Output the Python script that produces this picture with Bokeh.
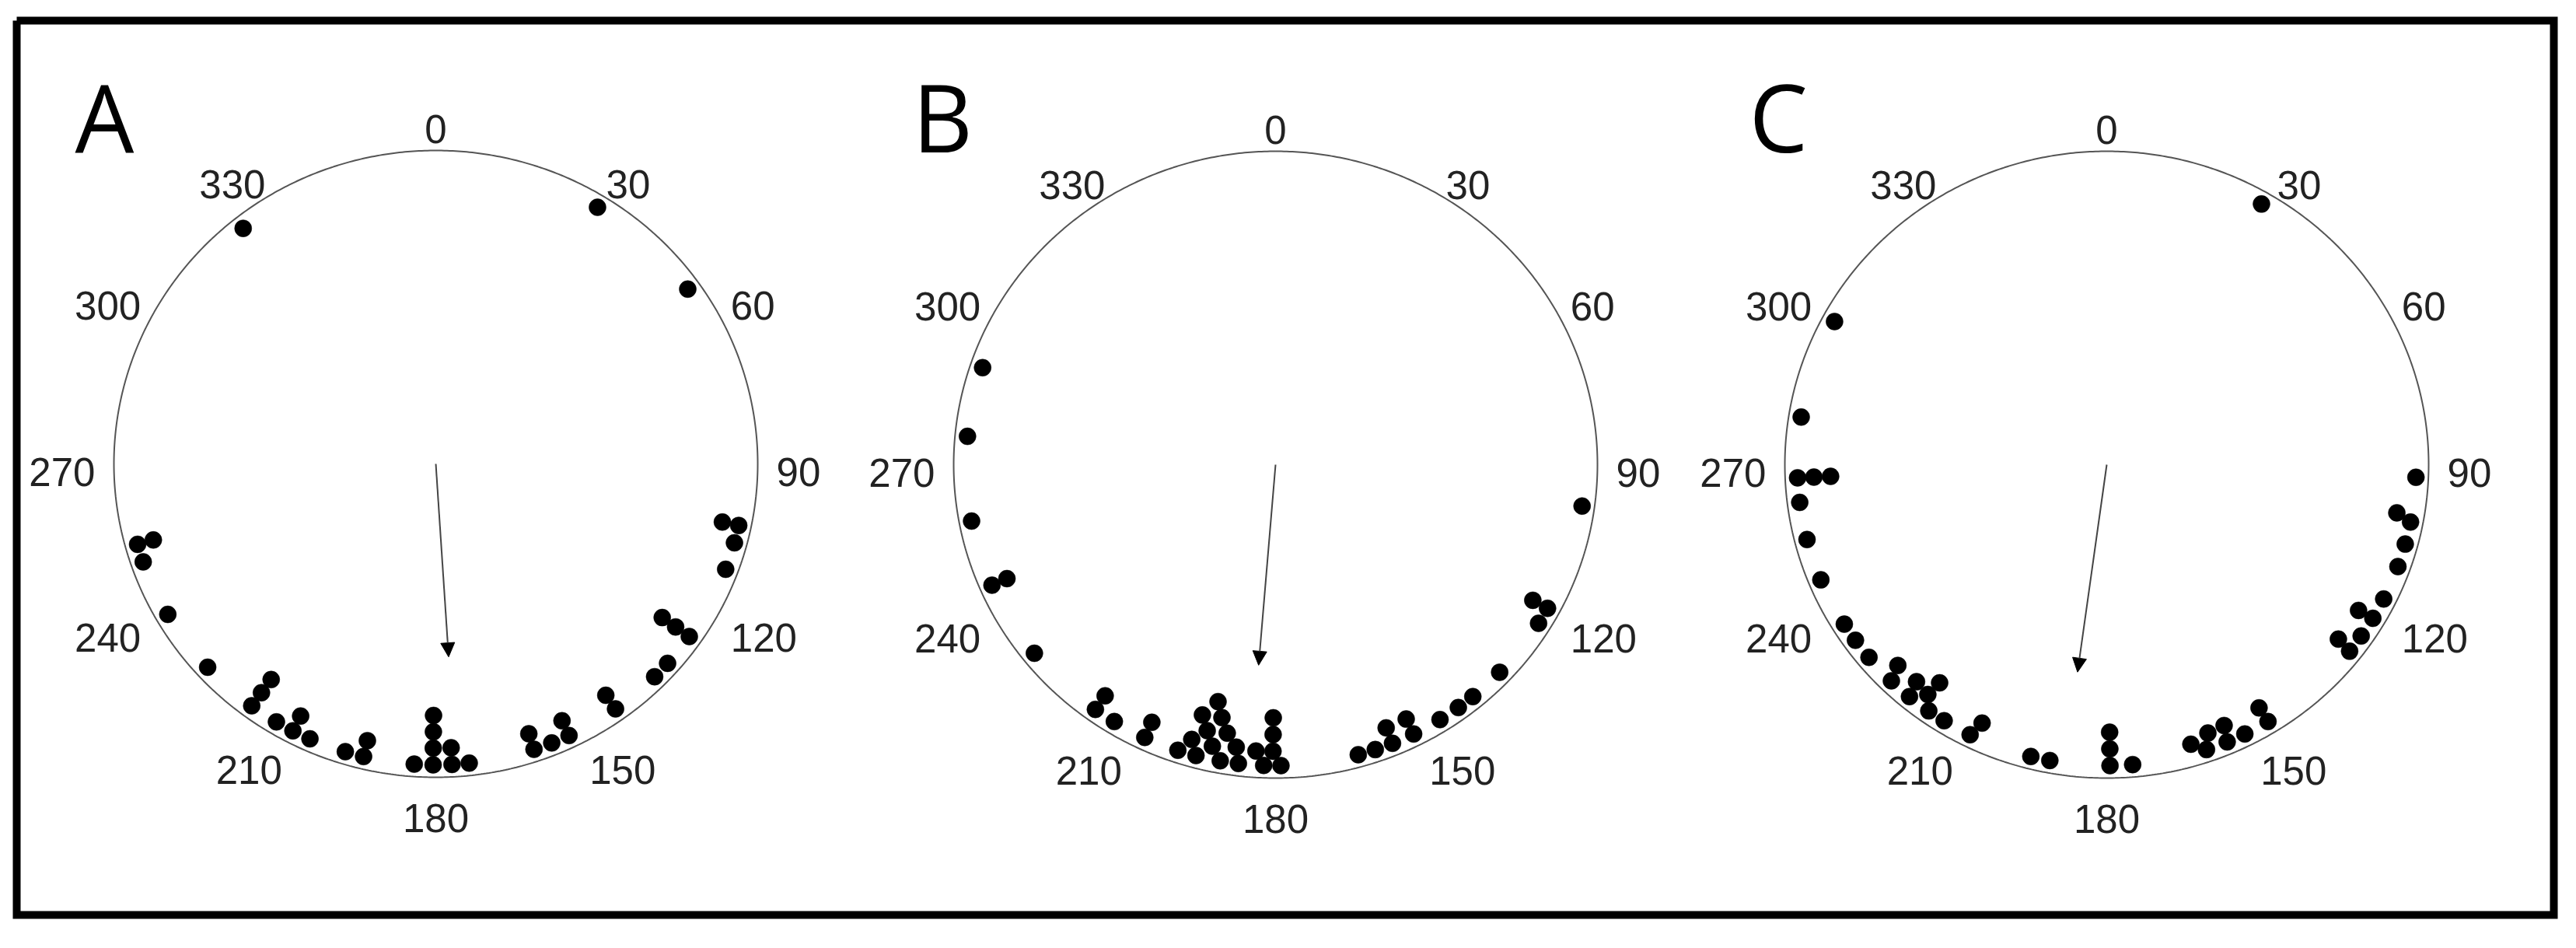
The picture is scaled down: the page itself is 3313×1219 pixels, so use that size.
import numpy as np
from bokeh.plotting import figure
from bokeh.models import Range1d, Arrow, NormalHead
from bokeh.core.properties import value
from bokeh.embed import file_html
from bokeh.resources import INLINE

# ---------------- data ----------------
panel_letters = ["A", "B", "C"]
tick_angles = [0, 30, 60, 90, 120, 150, 180, 210, 240, 270, 300, 330]
tick_labels = ["0", "30", "60", "90", "120", "150", "180", "210", "240", "270", "300", "330"]

# individual observations (degrees, clockwise from top); repeated values stack inward
angles_A = [321.5, 31.5, 54.5, 101.8, 105.2, 110.5, 125, 131.5, 135, 144.5, 154.5, 158,
            161.5, 173.8, 177, 180.5, 184, 193.5, 197, 204, 207.5, 211, 216.5, 227.5,
            240, 251, 254.5,
            101.8, 125, 144.5, 154.5, 161.5, 177, 180.5, 193.5, 207.5, 216.5, 254.5,
            125, 180.5, 216.5,
            180.5]
angles_B = [288.8, 275.4, 259.2, 246.4, 231.2, 215.6, 211.4, 205, 198.4, 194.9, 190.3,
            186.9, 182.2, 179.0, 97.9, 118.5, 121.8, 133.6, 140.4, 143.8, 147.9, 153.5,
            157.8, 161.2, 164.5,
            246.4, 215.6, 205, 196.5, 192.3, 187.7, 183.8, 180.5, 118.5, 153.5, 157.8,
            194.0, 189.9, 180.5,
            195.8, 191.6, 180.5,
            193.2]
angles_C = [30.0, 298.4, 279.1, 267.5, 262.8, 255.6, 247.5, 238.0, 234.3, 230.2, 224.1,
            219.6, 215.1, 211.7, 206.2, 194.2, 190.6, 179.4, 175.2, 148.6, 153.5, 157.1,
            161.2, 92.4, 101.0, 105.3, 109.8, 116.5, 120.7, 124.7, 128.3,
            267.5, 225.3, 220.4, 217.1, 205.1, 179.4, 148.7, 156.4, 159.9, 163.7, 99.7,
            120.8, 127.8,
            267.5, 216.6, 179.4]
panel_angles = [angles_A, angles_B, angles_C]

# mean vector (direction in degrees, length as fraction of radius)
mean_angle = [176.3, 184.7, 187.8]
mean_length = [0.617, 0.642, 0.668]

# ---------------- layout / style ----------------
W, H, M = 3296, 1200, 8
centers_x = [568, 1648, 2717]
centers_y = [604, 605, 605]
letter_x = [104, 1181, 2257]
RX, RY = 414, 403
DOT = 22
DCOLL = 21.0
INSET = 16.0
LABEL_GAP = 24
DIGIT_W = 28.4      # approx. advance of one digit at 51px
TICK_FONT = value("Liberation Sans")

p = figure(width=W, height=H, x_range=Range1d(M, M + W), y_range=Range1d(M + H, M),
           output_backend="svg", toolbar_location=None, min_border=0,
           x_axis_location=None, y_axis_location=None)
p.grid.visible = False
p.outline_line_color = None
p.background_fill_color = "white"
p.border_fill_color = "white"

# outer frame
fx = [29, 3292, 3292, 29, 29]
fy = [34, 34, 1184, 1184, 34]
p.line(fx, fy, line_color="black", line_width=10, line_join="miter")


def stack_positions(angles, cx, cy):
    placed = []
    for a in angles:
        th = np.radians(a)
        t = INSET
        while True:
            x = cx + (RX - t) * np.sin(th)
            y = cy - (RY - t) * np.cos(th)
            if all((x - px) ** 2 + (y - py) ** 2 >= DCOLL ** 2 for px, py in placed):
                break
            t += 0.5
        placed.append((x, y))
    return [q[0] for q in placed], [q[1] for q in placed]


for i in range(3):
    cx, cy = centers_x[i], centers_y[i]
    tt = np.linspace(0, 2 * np.pi, 721)
    p.line(cx + RX * np.sin(tt), cy - RY * np.cos(tt), line_color="#555555", line_width=2)

    xs, ys = stack_positions(panel_angles[i], cx, cy)
    p.scatter(xs, ys, size=DOT, fill_color="black", line_color="black", line_width=0.5)

    th = np.radians(mean_angle[i])
    L = mean_length[i]
    p.add_layout(Arrow(end=NormalHead(size=18, fill_color="black", line_color="black", line_width=1),
                       x_start=cx, y_start=cy,
                       x_end=cx + L * RX * np.sin(th), y_end=cy - L * RY * np.cos(th),
                       line_color="#444444", line_width=2))

    # tick labels, centred
    lx, ly = [], []
    for a, lab in zip(tick_angles, tick_labels):
        s, c = np.sin(np.radians(a)), np.cos(np.radians(a))
        hw = 0.5 * len(lab) * DIGIT_W
        k = 0.5 if a in (150, 210) else 1.0
        hshift = np.sign(s) * hw * k if abs(s) > 0.1 else 0.0
        if a == 0:
            extra = -11
        elif a == 180:
            extra = 21
        elif a in (150, 210):
            extra = 17
        else:
            extra = 3
        lx.append(cx + (RX + LABEL_GAP) * s + hshift)
        ly.append(cy - (RY + LABEL_GAP) * c + extra + 7)
    p.text(lx, ly, text=tick_labels, text_font=TICK_FONT, text_font_size="51px",
           text_color="#222222", text_align="center", text_baseline="middle")

    p.text([letter_x[i]], [157], text=[panel_letters[i]], text_font=value("Open Sans"),
           text_font_size="120px", text_color="black", text_align="left",
           text_baseline="alphabetic")

open("out.html", "w").write(file_html(p, INLINE))
